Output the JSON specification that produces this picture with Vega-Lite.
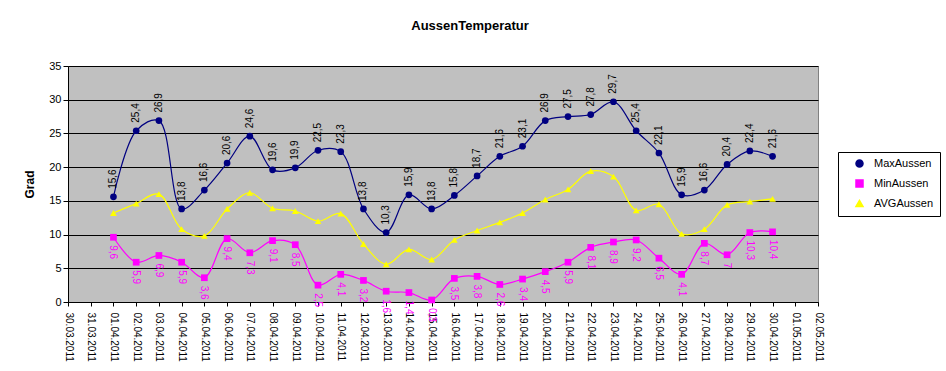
{
  "$schema": "https://vega.github.io/schema/vega-lite/v6.json",
  "width": 750,
  "height": 236,
  "autosize": {"type": "none"},
  "padding": {"left": 68, "top": 66, "right": 128, "bottom": 69},
  "background": "white",
  "config": {
    "font": "Liberation Sans",
    "locale": {"number": {"decimal": ",", "thousands": ".", "grouping": [3], "currency": ["", " €"]}},
    "view": {"fill": "#C0C0C0", "stroke": "#808080"}
  },
  "title": {"text": "AussenTemperatur", "fontSize": 13, "fontWeight": "bold", "offset": 27, "dx": 27, "color": "black", "font": "Liberation Sans"},
  "data": {"values": [
    {"date": "01.04.2011", "series": "MaxAussen", "value": 15.6},
    {"date": "02.04.2011", "series": "MaxAussen", "value": 25.4},
    {"date": "03.04.2011", "series": "MaxAussen", "value": 26.9},
    {"date": "04.04.2011", "series": "MaxAussen", "value": 13.8},
    {"date": "05.04.2011", "series": "MaxAussen", "value": 16.6},
    {"date": "06.04.2011", "series": "MaxAussen", "value": 20.6},
    {"date": "07.04.2011", "series": "MaxAussen", "value": 24.6},
    {"date": "08.04.2011", "series": "MaxAussen", "value": 19.6},
    {"date": "09.04.2011", "series": "MaxAussen", "value": 19.9},
    {"date": "10.04.2011", "series": "MaxAussen", "value": 22.5},
    {"date": "11.04.2011", "series": "MaxAussen", "value": 22.3},
    {"date": "12.04.2011", "series": "MaxAussen", "value": 13.8},
    {"date": "13.04.2011", "series": "MaxAussen", "value": 10.3},
    {"date": "14.04.2011", "series": "MaxAussen", "value": 15.9},
    {"date": "15.04.2011", "series": "MaxAussen", "value": 13.8},
    {"date": "16.04.2011", "series": "MaxAussen", "value": 15.8},
    {"date": "17.04.2011", "series": "MaxAussen", "value": 18.7},
    {"date": "18.04.2011", "series": "MaxAussen", "value": 21.6},
    {"date": "19.04.2011", "series": "MaxAussen", "value": 23.1},
    {"date": "20.04.2011", "series": "MaxAussen", "value": 26.9},
    {"date": "21.04.2011", "series": "MaxAussen", "value": 27.5},
    {"date": "22.04.2011", "series": "MaxAussen", "value": 27.8},
    {"date": "23.04.2011", "series": "MaxAussen", "value": 29.7},
    {"date": "24.04.2011", "series": "MaxAussen", "value": 25.4},
    {"date": "25.04.2011", "series": "MaxAussen", "value": 22.1},
    {"date": "26.04.2011", "series": "MaxAussen", "value": 15.9},
    {"date": "27.04.2011", "series": "MaxAussen", "value": 16.6},
    {"date": "28.04.2011", "series": "MaxAussen", "value": 20.4},
    {"date": "29.04.2011", "series": "MaxAussen", "value": 22.4},
    {"date": "30.04.2011", "series": "MaxAussen", "value": 21.6},
    {"date": "01.04.2011", "series": "MinAussen", "value": 9.6},
    {"date": "02.04.2011", "series": "MinAussen", "value": 5.9},
    {"date": "03.04.2011", "series": "MinAussen", "value": 6.9},
    {"date": "04.04.2011", "series": "MinAussen", "value": 5.9},
    {"date": "05.04.2011", "series": "MinAussen", "value": 3.6},
    {"date": "06.04.2011", "series": "MinAussen", "value": 9.4},
    {"date": "07.04.2011", "series": "MinAussen", "value": 7.3},
    {"date": "08.04.2011", "series": "MinAussen", "value": 9.1},
    {"date": "09.04.2011", "series": "MinAussen", "value": 8.5},
    {"date": "10.04.2011", "series": "MinAussen", "value": 2.5},
    {"date": "11.04.2011", "series": "MinAussen", "value": 4.1},
    {"date": "12.04.2011", "series": "MinAussen", "value": 3.2},
    {"date": "13.04.2011", "series": "MinAussen", "value": 1.6},
    {"date": "14.04.2011", "series": "MinAussen", "value": 1.4},
    {"date": "15.04.2011", "series": "MinAussen", "value": 0.3},
    {"date": "16.04.2011", "series": "MinAussen", "value": 3.5},
    {"date": "17.04.2011", "series": "MinAussen", "value": 3.8},
    {"date": "18.04.2011", "series": "MinAussen", "value": 2.6},
    {"date": "19.04.2011", "series": "MinAussen", "value": 3.4},
    {"date": "20.04.2011", "series": "MinAussen", "value": 4.5},
    {"date": "21.04.2011", "series": "MinAussen", "value": 5.9},
    {"date": "22.04.2011", "series": "MinAussen", "value": 8.1},
    {"date": "23.04.2011", "series": "MinAussen", "value": 8.9},
    {"date": "24.04.2011", "series": "MinAussen", "value": 9.2},
    {"date": "25.04.2011", "series": "MinAussen", "value": 6.5},
    {"date": "26.04.2011", "series": "MinAussen", "value": 4.1},
    {"date": "27.04.2011", "series": "MinAussen", "value": 8.7},
    {"date": "28.04.2011", "series": "MinAussen", "value": 7},
    {"date": "29.04.2011", "series": "MinAussen", "value": 10.3},
    {"date": "30.04.2011", "series": "MinAussen", "value": 10.4},
    {"date": "01.04.2011", "series": "AVGAussen", "value": 13.2},
    {"date": "02.04.2011", "series": "AVGAussen", "value": 14.6},
    {"date": "03.04.2011", "series": "AVGAussen", "value": 16.0},
    {"date": "04.04.2011", "series": "AVGAussen", "value": 10.8},
    {"date": "05.04.2011", "series": "AVGAussen", "value": 9.8},
    {"date": "06.04.2011", "series": "AVGAussen", "value": 13.8},
    {"date": "07.04.2011", "series": "AVGAussen", "value": 16.2},
    {"date": "08.04.2011", "series": "AVGAussen", "value": 13.9},
    {"date": "09.04.2011", "series": "AVGAussen", "value": 13.5},
    {"date": "10.04.2011", "series": "AVGAussen", "value": 12.0},
    {"date": "11.04.2011", "series": "AVGAussen", "value": 13.1},
    {"date": "12.04.2011", "series": "AVGAussen", "value": 8.6},
    {"date": "13.04.2011", "series": "AVGAussen", "value": 5.6},
    {"date": "14.04.2011", "series": "AVGAussen", "value": 7.8},
    {"date": "15.04.2011", "series": "AVGAussen", "value": 6.3},
    {"date": "16.04.2011", "series": "AVGAussen", "value": 9.2},
    {"date": "17.04.2011", "series": "AVGAussen", "value": 10.6},
    {"date": "18.04.2011", "series": "AVGAussen", "value": 11.8},
    {"date": "19.04.2011", "series": "AVGAussen", "value": 13.2},
    {"date": "20.04.2011", "series": "AVGAussen", "value": 15.2},
    {"date": "21.04.2011", "series": "AVGAussen", "value": 16.7},
    {"date": "22.04.2011", "series": "AVGAussen", "value": 19.4},
    {"date": "23.04.2011", "series": "AVGAussen", "value": 18.6},
    {"date": "24.04.2011", "series": "AVGAussen", "value": 13.6},
    {"date": "25.04.2011", "series": "AVGAussen", "value": 14.5},
    {"date": "26.04.2011", "series": "AVGAussen", "value": 10.1},
    {"date": "27.04.2011", "series": "AVGAussen", "value": 10.8},
    {"date": "28.04.2011", "series": "AVGAussen", "value": 14.4},
    {"date": "29.04.2011", "series": "AVGAussen", "value": 14.9},
    {"date": "30.04.2011", "series": "AVGAussen", "value": 15.3}
  ]},
  "encoding": {
    "x": {
      "field": "date", "type": "ordinal",
      "scale": {"type": "point", "padding": 0, "domain": ["30.03.2011","31.03.2011","01.04.2011","02.04.2011","03.04.2011","04.04.2011","05.04.2011","06.04.2011","07.04.2011","08.04.2011","09.04.2011","10.04.2011","11.04.2011","12.04.2011","13.04.2011","14.04.2011","15.04.2011","16.04.2011","17.04.2011","18.04.2011","19.04.2011","20.04.2011","21.04.2011","22.04.2011","23.04.2011","24.04.2011","25.04.2011","26.04.2011","27.04.2011","28.04.2011","29.04.2011","30.04.2011","01.05.2011","02.05.2011"]},
      "axis": {"title": null, "labelAngle": 90, "labelFontSize": 10, "labelColor": "black", "labelPadding": 6, "tickSize": 4, "tickColor": "black", "domainColor": "black", "grid": false, "labelOverlap": false, "labelFont": "Liberation Sans"}
    },
    "y": {
      "field": "value", "type": "quantitative",
      "scale": {"domain": [0, 35], "nice": false, "zero": true},
      "axis": {"title": "Grad", "titleFontSize": 12, "titleFontWeight": "bold", "titleColor": "black", "titlePadding": 12, "values": [0,5,10,15,20,25,30,35], "grid": true, "gridColor": "black", "gridOpacity": 1, "labelFontSize": 11, "labelColor": "black", "tickSize": 5, "tickColor": "black", "domainColor": "black", "labelFont": "Liberation Sans", "titleFont": "Liberation Sans"}
    },
    "color": {
      "field": "series", "type": "nominal",
      "scale": {"domain": ["MaxAussen", "MinAussen", "AVGAussen"], "range": ["#000080", "#FF00FF", "#FFFF00"]},
      "legend": {
        "title": null, "orient": "none", "legendX": 770, "legendY": 86,
        "strokeColor": "black", "fillColor": "white", "padding": 6,
        "labelFontSize": 11, "labelColor": "black", "labelFont": "Liberation Sans",
        "symbolSize": 49, "rowPadding": 7, "labelOffset": 9, "symbolOffset": 10
      }
    }
  },
  "layer": [
    {
      "mark": {"type": "line", "interpolate": "catmull-rom", "strokeWidth": 1.2}
    },
    {
      "mark": {"type": "point", "filled": true, "opacity": 1, "size": 45},
      "encoding": {
        "shape": {
          "field": "series", "type": "nominal",
          "scale": {"domain": ["MaxAussen", "MinAussen", "AVGAussen"], "range": ["circle", "square", "triangle-up"]}
        }
      }
    },
    {
      "transform": [{"filter": "datum.series === 'MaxAussen'"}],
      "mark": {"type": "text", "angle": 270, "align": "left", "baseline": "middle", "dx": 8, "fontSize": 10, "font": "Liberation Sans"},
      "encoding": {"text": {"field": "value", "type": "quantitative", "format": ".1~f"}, "color": {"value": "black"}}
    },
    {
      "transform": [{"filter": "datum.series === 'MinAussen'"}],
      "mark": {"type": "text", "angle": 90, "align": "left", "baseline": "middle", "dx": 8, "fontSize": 10, "font": "Liberation Sans"},
      "encoding": {"text": {"field": "value", "type": "quantitative", "format": ".1~f"}, "color": {"value": "#FF00FF"}}
    }
  ]
}
